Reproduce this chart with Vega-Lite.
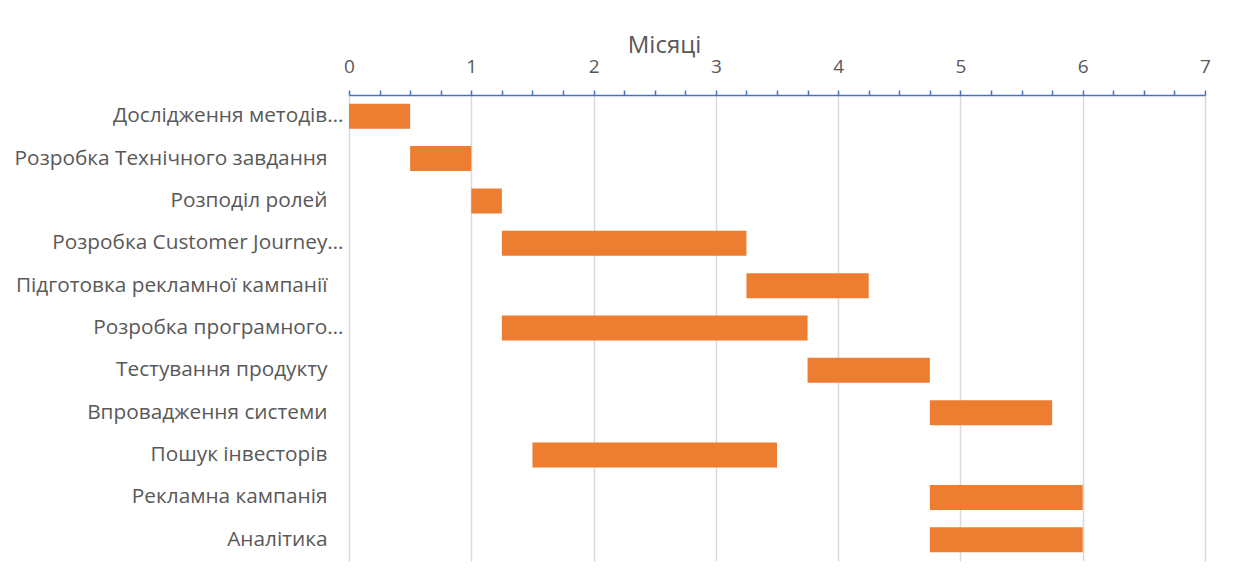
{
  "$schema": "https://vega.github.io/schema/vega-lite/v6.json",
  "autosize": "none",
  "width": 856,
  "height": 466,
  "padding": {"left": 349, "top": 95, "right": 28, "bottom": 24},
  "background": "#ffffff",
  "config": {"view": {"stroke": null}},
  "data": {
    "values": [
      {"task": "Дослідження методів…", "start": 0, "end": 0.5},
      {"task": "Розробка Технічного завдання", "start": 0.5, "end": 1},
      {"task": "Розподіл ролей", "start": 1, "end": 1.25},
      {"task": "Розробка Customer Journey…", "start": 1.25, "end": 3.25},
      {"task": "Підготовка рекламної кампанії", "start": 3.25, "end": 4.25},
      {"task": "Розробка програмного…", "start": 1.25, "end": 3.75},
      {"task": "Тестування продукту", "start": 3.75, "end": 4.75},
      {"task": "Впровадження системи", "start": 4.75, "end": 5.75},
      {"task": "Пошук інвесторів", "start": 1.5, "end": 3.5},
      {"task": "Рекламна кампанія", "start": 4.75, "end": 6},
      {"task": "Аналітика", "start": 4.75, "end": 6}
    ]
  },
  "mark": {"type": "bar", "color": "#ED7D31"},
  "encoding": {
    "y": {
      "field": "task",
      "type": "nominal",
      "sort": null,
      "scale": {"paddingInner": 0.41, "paddingOuter": 0.205},
      "axis": {
        "title": null,
        "ticks": false,
        "domain": false,
        "grid": false,
        "labelFont": "Open Sans",
        "labelFontSize": 20.8,
        "labelColor": "#595959",
        "labelLimit": 0,
        "labelPadding": {"condition": {"test": "indexof(datum.label, '…') >= 0", "value": 6}, "value": 22}
      }
    },
    "x": {
      "field": "start",
      "type": "quantitative",
      "scale": {"domain": [0, 7], "nice": false, "zero": false},
      "axis": {
        "orient": "top",
        "title": "Місяці",
        "titleFont": "Open Sans",
        "titleFontSize": 24,
        "titleFontWeight": "normal",
        "titleColor": "#595959",
        "titleX": 315,
        "titleY": -43,
        "titleAlign": "center",
        "titleBaseline": "alphabetic",
        "values": [0, 0.25, 0.5, 0.75, 1, 1.25, 1.5, 1.75, 2, 2.25, 2.5, 2.75, 3, 3.25, 3.5, 3.75, 4, 4.25, 4.5, 4.75, 5, 5.25, 5.5, 5.75, 6, 6.25, 6.5, 6.75, 7],
        "labelExpr": "datum.value % 1 === 0 ? format(datum.value, 'd') : ''",
        "labelOverlap": false,
        "labelFlush": false,
        "labelFont": "Open Sans",
        "labelFontSize": 19,
        "labelColor": "#595959",
        "labelBaseline": "alphabetic",
        "labelPadding": 18,
        "domainColor": "#4472C4",
        "domainWidth": 1.5,
        "tickColor": "#4472C4",
        "tickWidth": 1.5,
        "tickSize": 5,
        "grid": true,
        "gridColor": "#D9D9D9",
        "gridWidth": 1.5,
        "gridOpacity": {"condition": {"test": "datum.value % 1 === 0", "value": 1}, "value": 0}
      }
    },
    "x2": {"field": "end"}
  }
}
